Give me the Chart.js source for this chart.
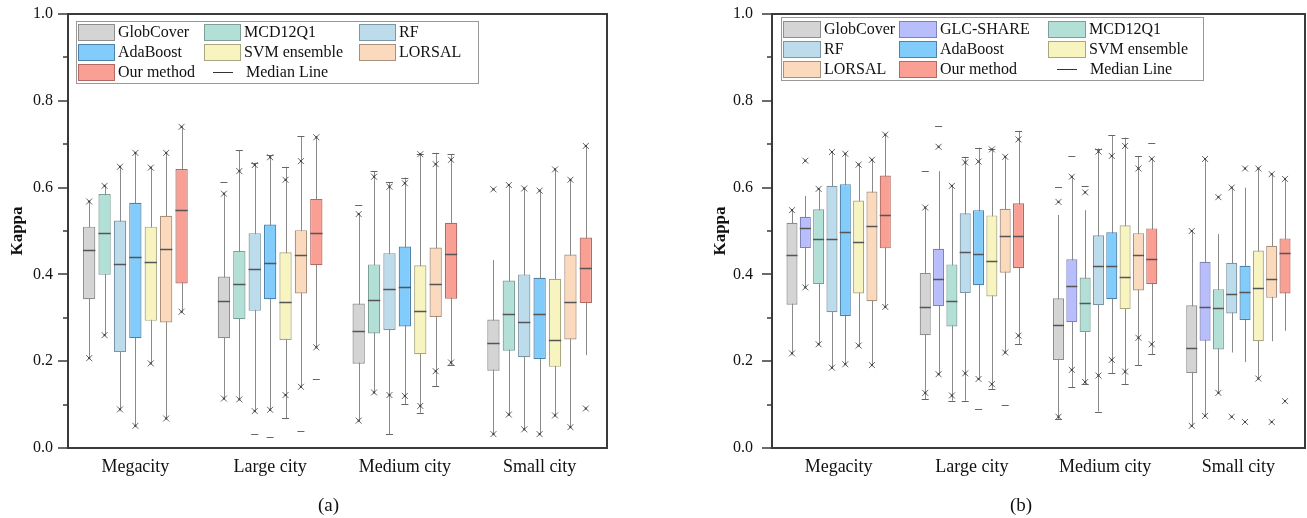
<!DOCTYPE html>
<html>
<head>
<meta charset="utf-8">
<script src="https://cdn.jsdelivr.net/npm/chart.js@4.4.1/dist/chart.umd.min.js"></script>
<style>
body { margin: 0; background: #fff; width: 1307px; height: 518px; position: relative; overflow: hidden; font-family: "Liberation Serif", serif; }
#ca { position: absolute; left: 0; top: 0; }
#cb { position: absolute; left: 700px; top: 0; }
.cap { position: absolute; top: 494px; font-size: 19px; color: #111; }
</style>
</head>
<body>
<canvas id="ca" width="650" height="518"></canvas>
<canvas id="cb" width="607" height="518"></canvas>
<div class="cap" style="left:318px">(a)</div>
<div class="cap" style="left:1010px">(b)</div>
<script>
var cities = ['Megacity', 'Large city', 'Medium city', 'Small city'];

// panel (a): rows = methods, columns = cities
var methodsA = ['GlobCover', 'MCD12Q1', 'RF', 'AdaBoost', 'SVM ensemble', 'LORSAL', 'Our method'];
var q1A = [
  [.343, .253, .194, .178], [.399, .297, .264, .224], [.221, .316, .272, .209], [.253, .343, .280, .205],
  [.293, .249, .216, .187], [.289, .356, .302, .250], [.379, .421, .344, .334]];
var medA = [
  [.456, .338, .269, .241], [.495, .378, .342, .309], [.424, .413, .366, .290], [.441, .426, .370, .309],
  [.428, .336, .315, .250], [.458, .444, .379, .336], [.548, .495, .446, .415]];
var q3A = [
  [.510, .395, .333, .296], [.585, .454, .423, .386], [.524, .495, .449, .400], [.565, .515, .464, .392],
  [.510, .451, .421, .390], [.535, .502, .462, .446], [.643, .574, .519, .485]];
var loA = [
  [.207, .114, .063, .032], [.260, .112, .128, .077], [.089, .085, .032, .043], [.051, .088, .101, .032],
  [.195, .068, .081, .075], [.068, .141, .143, .048], [.314, .232, .191, .214]];
var hiA = [
  [.568, .586, .539, .433], [.604, .686, .638, .606], [.648, .657, .612, .598], [.680, .675, .623, .593],
  [.646, .648, .677, .642], [.680, .719, .680, .618], [.740, .716, .677, .696]];
var crossA = [
  [[.568, .207], [.586, .114], [.539, .063], [.596, .032]],
  [[.604, .260], [.638, .112], [.625, .128], [.606, .077]],
  [[.648, .089], [.652, .085], [.602, .122], [.598, .043]],
  [[.680, .051], [.670, .088], [.610, .120], [.593, .032]],
  [[.646, .195], [.618, .122], [.677, .097], [.642, .075]],
  [[.680, .068], [.661, .141], [.654, .177], [.618, .048]],
  [[.740, .314], [.716, .232], [.664, .197], [.696, .091]]];
var dashA = [
  [[], [.612], [.561], []],
  [[], [.686], [.638], []],
  [[], [.657, .032], [.612, .032], []],
  [[], [.675, .025], [.623, .101], []],
  [[], [.648, .068], [.677, .081], []],
  [[], [.719, .040], [.680, .143], []],
  [[], [.158], [.677, .191], []]];

// panel (b)
var methodsB = ['GlobCover', 'GLC-SHARE', 'MCD12Q1', 'RF', 'AdaBoost', 'SVM ensemble', 'LORSAL', 'Our method'];
var q1B = [
  [.330, .260, .203, .173], [.461, .327, .290, .247], [.378, .280, .267, .227], [.313, .357, .329, .310],
  [.304, .375, .343, .295], [.356, .349, .320, .246], [.338, .404, .363, .346], [.460, .414, .378, .356]];
var medB = [
  [.444, .326, .283, .231], [.506, .390, .373, .326], [.482, .339, .333, .322], [.482, .451, .419, .354],
  [.497, .448, .419, .359], [.475, .432, .395, .368], [.511, .488, .444, .389], [.538, .488, .435, .450]];
var q3B = [
  [.519, .403, .345, .329], [.533, .459, .435, .429], [.550, .423, .393, .366], [.604, .541, .490, .427],
  [.608, .548, .497, .420], [.570, .536, .513, .455], [.591, .551, .495, .466], [.628, .564, .506, .483]];
var loB = [
  [.218, .113, .066, .051], [.370, .170, .140, .074], [.239, .109, .147, .127], [.185, .109, .084, .220],
  [.193, .159, .173, .198], [.236, .136, .147, .160], [.191, .220, .191, .246], [.325, .239, .216, .270]];
var hiB = [
  [.548, .554, .537, .500], [.581, .638, .625, .666], [.597, .604, .548, .493], [.682, .671, .690, .600],
  [.678, .692, .721, .600], [.653, .688, .715, .644], [.664, .671, .673, .631], [.722, .731, .666, .620]];
var crossB = [
  [[.548, .218], [.554, .127], [.567, .072], [.500, .051]],
  [[.662, .370], [.694, .170], [.625, .180], [.666, .074]],
  [[.597, .239], [.604, .121], [.589, .152], [.578, .127]],
  [[.682, .185], [.658, .172], [.683, .167], [.600, .072]],
  [[.678, .193], [.660, .159], [.673, .203], [.644, .060]],
  [[.653, .236], [.688, .147], [.696, .176], [.644, .160]],
  [[.664, .191], [.671, .220], [.644, .254], [.631, .060]],
  [[.722, .325], [.711, .259], [.666, .239], [.620, .108]]];
var dashB = [
  [[], [.638, .113], [.602, .066], []],
  [[], [.742], [.673, .140], []],
  [[], [.109], [.604, .147], []],
  [[], [.671, .109], [.690, .084], []],
  [[], [.692, .090], [.721, .173], []],
  [[], [.688, .136], [.715, .147], []],
  [[], [.100], [.673, .191], []],
  [[], [.731, .239], [.702, .216], []]];

var fills = {
  'GlobCover': '#d4d4d4', 'GLC-SHARE': '#b8bdfb', 'MCD12Q1': '#b2e0d7', 'RF': '#bcdcec',
  'AdaBoost': '#81ccfb', 'SVM ensemble': '#f7f4c0', 'LORSAL': '#fad9bd', 'Our method': '#f99f94'
};
var edges = {
  'GlobCover': '#8e8e8e', 'GLC-SHARE': '#7d82b8', 'MCD12Q1': '#7e9e98', 'RF': '#7d96a6',
  'AdaBoost': '#4f82a8', 'SVM ensemble': '#a9a780', 'LORSAL': '#a8907c', 'Our method': '#b06a62'
};

// legend placement (canvas pixels)
var legends = {
  ca: { x: 76, y: 21, w: 402, h: 62, rows: [32, 52, 72], cols: [78, 204, 359], sw: 36 },
  cb: { x: 81, y: 17, w: 422, h: 63, rows: [29, 49, 69], cols: [83, 199, 348], sw: 37 }
};

function px(v) { return Math.round(v) + 0.5; }

var boxPlugin = {
  id: 'boxes',
  beforeDatasetsDraw: function (chart) {
    var ctx = chart.ctx, y = chart.scales.y;
    ctx.save();
    ctx.strokeStyle = '#8a8a8a';
    ctx.lineWidth = 1;
    chart.data.datasets.forEach(function (ds, i) {
      chart.getDatasetMeta(i).data.forEach(function (bar, j) {
        var x = px(bar.x);
        ctx.beginPath();
        ctx.moveTo(x, y.getPixelForValue(ds.hi[j]));
        ctx.lineTo(x, y.getPixelForValue(ds.lo[j]));
        ctx.stroke();
      });
    });
    ctx.restore();
  },
  afterDatasetsDraw: function (chart) {
    var ctx = chart.ctx, y = chart.scales.y, a = chart.chartArea;
    ctx.save();
    chart.data.datasets.forEach(function (ds, i) {
      chart.getDatasetMeta(i).data.forEach(function (bar, j) {
        var x = bar.x, hw = bar.width / 2;
        // median
        var ym = px(y.getPixelForValue(ds.med[j]));
        ctx.strokeStyle = '#555';
        ctx.lineWidth = 1.5;
        ctx.beginPath();
        ctx.moveTo(x - hw, ym); ctx.lineTo(x + hw, ym);
        ctx.stroke();
        // caps / extremes
        ctx.strokeStyle = '#666';
        ctx.lineWidth = 1;
        ds.dash[j].forEach(function (v) {
          var yy = px(y.getPixelForValue(v));
          ctx.beginPath();
          ctx.moveTo(x - 3.5, yy); ctx.lineTo(x + 3.5, yy);
          ctx.stroke();
        });
        // percentile crosses
        ds.cross[j].forEach(function (v) {
          var yy = y.getPixelForValue(v);
          ctx.beginPath();
          ctx.moveTo(x - 3, yy - 3); ctx.lineTo(x + 3, yy + 3);
          ctx.moveTo(x - 3, yy + 3); ctx.lineTo(x + 3, yy - 3);
          ctx.stroke();
          ctx.fillStyle = '#444';
          ctx.fillRect(x - 1, yy - 1, 2, 2);
        });
      });
    });

    // frame
    ctx.strokeStyle = '#3a3a3a';
    ctx.lineWidth = 2;
    ctx.strokeRect(Math.round(a.left), Math.round(a.top), Math.round(a.right - a.left), Math.round(a.bottom - a.top));

    // y tick marks, major every 0.2, minor every 0.1
    ctx.lineWidth = 1.5;
    for (var k = 0; k <= 10; k++) {
      var ty = Math.round(y.getPixelForValue(k / 10));
      ctx.beginPath();
      ctx.moveTo(a.left - (k % 2 === 0 ? 10 : 5), ty);
      ctx.lineTo(a.left, ty);
      ctx.stroke();
    }

    // legend
    var L = legends[chart.canvas.id];
    ctx.fillStyle = '#fff';
    ctx.fillRect(L.x, L.y, L.w, L.h);
    ctx.strokeStyle = '#999';
    ctx.lineWidth = 1;
    ctx.strokeRect(px(L.x), px(L.y), L.w, L.h);
    ctx.font = '16px "Liberation Serif"';
    ctx.textBaseline = 'middle';
    ctx.textAlign = 'left';
    var names = chart.data.datasets.map(function (d) { return d.label; });
    names.concat(['Median Line']).forEach(function (nm, n) {
      var cx = L.cols[n % 3], cy = L.rows[Math.floor(n / 3)];
      if (nm === 'Median Line') {
        ctx.strokeStyle = '#333';
        ctx.beginPath();
        ctx.moveTo(cx + 9, px(cy)); ctx.lineTo(cx + 29, px(cy));
        ctx.stroke();
        ctx.fillStyle = '#111';
        ctx.fillText(nm, cx + 42, cy + 1);
        return;
      }
      ctx.fillStyle = fills[nm];
      ctx.fillRect(cx, cy - 8, L.sw, 17);
      ctx.strokeStyle = edges[nm];
      ctx.strokeRect(px(cx), px(cy - 8), L.sw, 16);
      ctx.fillStyle = '#111';
      ctx.fillText(nm, cx + L.sw + 4, cy + 1);
    });
    ctx.restore();
  }
};

function makeDatasets(methods, q1, med, q3, lo, hi, cross, dash) {
  return methods.map(function (m, i) {
    return {
      label: m,
      data: q1[i].map(function (v, j) { return [v, q3[i][j]]; }),
      med: med[i], lo: lo[i], hi: hi[i], cross: cross[i], dash: dash[i],
      backgroundColor: fills[m],
      borderColor: edges[m],
      borderWidth: 1.2,
      borderSkipped: false,
      categoryPercentage: 0.8,
      barPercentage: methods.length > 7 ? 0.83 : 0.8
    };
  });
}

function makeChart(id, datasets, axisWidth, labelPad, titlePad, padRight) {
  return new Chart(document.getElementById(id), {
    type: 'bar',
    data: { labels: cities, datasets: datasets },
    plugins: [boxPlugin],
    options: {
      responsive: false,
      animation: false,
      devicePixelRatio: 1,
      layout: { padding: { top: 14, right: padRight, bottom: 40, left: 0 } },
      plugins: { legend: { display: false }, tooltip: { enabled: false } },
      scales: {
        x: {
          grid: { display: false },
          border: { display: false },
          ticks: { color: '#111', padding: 0, font: { family: 'Liberation Serif', size: 18 } },
          afterFit: function (s) { s.height = 30; s.paddingLeft = 0; s.paddingRight = 0; }
        },
        y: {
          min: 0, max: 1,
          grid: { display: false, drawTicks: false },
          border: { display: false },
          ticks: {
            stepSize: 0.2, padding: labelPad, color: '#111',
            font: { family: 'Liberation Serif', size: 16 },
            callback: function (v) { return v.toFixed(1); }
          },
          title: {
            display: true, text: 'Kappa', color: '#111',
            padding: { top: titlePad, bottom: 0 },
            font: { family: 'Liberation Serif', size: 17, weight: 'bold' }
          },
          afterFit: function (s) { s.width = axisWidth; s.paddingTop = 0; s.paddingBottom = 0; }
        }
      }
    }
  });
}

makeChart('ca', makeDatasets(methodsA, q1A, medA, q3A, loA, hiA, crossA, dashA), 68, 15, 7, 43);
makeChart('cb', makeDatasets(methodsB, q1B, medB, q3B, loB, hiB, crossB, dashB), 72, 19, 10, 2);
</script>
</body>
</html>
